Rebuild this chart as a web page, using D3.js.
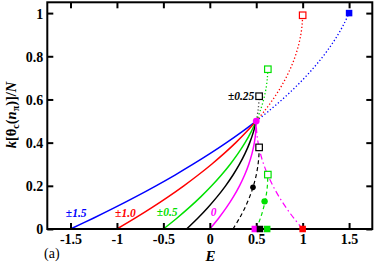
<!DOCTYPE html>
<html><head><meta charset="utf-8">
<script src="https://cdn.jsdelivr.net/npm/d3@7"></script>
<style>body{margin:0;background:#fff}svg{display:block}</style>
</head><body>
<svg id="c" width="374" height="262"></svg>
<script>
// ---- data ----
const xTicks = [-1.5, -1, -0.5, 0, 0.5, 1, 1.5];
const xTickLabels = ["-1.5", "-1", "-0.5", "0", "0.5", "1", "1.5"];
const yTicks = [0, 0.2, 0.4, 0.6, 0.8, 1];
const yTickLabels = ["0", "0.2", "0.4", "0.6", "0.8", "1"];

// lower half (k/N from 0 to 0.5)
const yLow = [0, 0.05, 0.1, 0.15, 0.2, 0.25, 0.3, 0.35, 0.4, 0.45, 0.5];
const blueSolidE    = [-1.5, -1.255, -1.02, -0.795, -0.58, -0.375, -0.18, 0.005, 0.18, 0.345, 0.5];
const redSolidE     = [-1, -0.805, -0.62, -0.445, -0.28, -0.125, 0.02, 0.155, 0.28, 0.395, 0.5];
const greenSolidE   = [-0.5, -0.355, -0.22, -0.095, 0.02, 0.125, 0.22, 0.305, 0.38, 0.445, 0.5];
const blackSolidE   = [-0.25, -0.13, -0.02, 0.08, 0.17, 0.25, 0.32, 0.38, 0.43, 0.47, 0.5];
const magentaSolidE = [0, 0.095, 0.18, 0.255, 0.32, 0.375, 0.42, 0.455, 0.48, 0.495, 0.5];
const magentaDashDotE = [1, 0.905, 0.82, 0.745, 0.68, 0.625, 0.58, 0.545, 0.52, 0.505, 0.5];

// upper dotted branches
const blueDotY  = [0.5, 0.55, 0.6, 0.65, 0.7, 0.75, 0.8, 0.85, 0.9, 0.95, 1.0];
const blueDotE  = [0.5, 0.645, 0.78, 0.905, 1.02, 1.125, 1.22, 1.305, 1.38, 1.445, 1.5];
const redDotY   = [0.5, 0.55, 0.6, 0.65, 0.7, 0.75, 0.8, 0.85, 0.9, 0.95, 0.99];
const redDotE   = [0.5, 0.595, 0.68, 0.755, 0.82, 0.875, 0.92, 0.955, 0.98, 0.995, 1.0];
const greenDotY = [0.5, 0.55, 0.6, 0.65, 0.7, 0.74];
const greenDotE = [0.5, 0.545, 0.58, 0.605, 0.62, 0.625];
const blackDotY = [0.5, 0.55, 0.6, 0.615];
const blackDotE = [0.5, 0.52, 0.53, 0.531];

// lower dashed branches
const blackDashY = [0, 0.05, 0.1, 0.15, 0.2, 0.25, 0.3, 0.35, 0.378];
const blackDashE = [0.25, 0.32, 0.38, 0.43, 0.47, 0.5, 0.52, 0.53, 0.531];
const greenDashY = [0, 0.05, 0.1, 0.15, 0.2, 0.252];
const greenDashE = [0.5, 0.545, 0.58, 0.605, 0.62, 0.625];

// markers
const openSquares = [
  {E: 1.0, y: 0.99, c: "#ff0000"},
  {E: 0.625, y: 0.74, c: "#00e000"},
  {E: 0.531, y: 0.615, c: "#000000"},
  {E: 0.531, y: 0.378, c: "#000000"},
  {E: 0.625, y: 0.252, c: "#00e000"}
];
const filledSquares = [
  {E: 1.5, y: 1.0, c: "#0000ff"},
  {E: 0.485, y: 0, c: "#ff00ff"},
  {E: 0.54, y: 0, c: "#000000"},
  {E: 0.618, y: 0, c: "#00e000"},
  {E: 1.0, y: 0, c: "#ff0000"}
];
const dots = [
  {E: 0.465, y: 0.193, c: "#000000", r: 2.8},
  {E: 0.59, y: 0.128, c: "#00e000", r: 3.2},
  {E: 0.5, y: 0.5, c: "#ff00ff", r: 3.4}
];
const curveLabels = [
  {t: "±1.5", E: -1.55, y: 0.056, c: "#0000ff"},
  {t: "±1.0", E: -1.02, y: 0.056, c: "#ff0000"},
  {t: "±0.5", E: -0.57, y: 0.06, c: "#00e000"},
  {t: "0",    E: 0.01,  y: 0.06, c: "#ff00ff"},
  {t: "±0.25", E: 0.195, y: 0.597, c: "#000000"}
];

// ---- drawing ----
const svg = d3.select("#c");
const L = 47.3, R = 372.3, T = 2.3, B = 229;
const x = d3.scaleLinear().domain([-1.75, 1.75]).range([L, R]);
const y = d3.scaleLinear().domain([0, 1.05]).range([B, T]);
const serif = "'Liberation Serif','Times New Roman',serif";

const line = d3.line().x(d => x(d[0])).y(d => y(d[1])).curve(d3.curveCatmullRom);
const zip = (Es, Ys) => Es.map((e, i) => [e, Ys[i]]);

function path(pts, color, dash, w) {
  svg.append("path").attr("d", line(pts)).attr("fill", "none")
    .attr("stroke", color).attr("stroke-width", w || 1.5)
    .attr("stroke-dasharray", dash || null);
}

const dot = "1.3,2.2";
path(zip(blueDotE, blueDotY), "#0000ff", dot, 1.3);
path(zip(redDotE, redDotY), "#ff0000", dot, 1.3);
path(zip(greenDotE, greenDotY), "#00e000", dot, 1.3);
path(zip(blackDotE, blackDotY), "#555555", dot, 1.3);

path(zip(blueSolidE, yLow), "#0000ff");
path(zip(redSolidE, yLow), "#ff0000");
path(zip(greenSolidE, yLow), "#00e000");
path(zip(blackSolidE, yLow), "#000000");
path(zip(magentaSolidE, yLow), "#ff00ff");

path(zip(blackDashE, blackDashY), "#000000", "4,3", 1.2);
path(zip(greenDashE, greenDashY), "#00e000", "4,3", 1.2);
path(zip(magentaDashDotE, yLow), "#ff00ff", "6,3,1.5,3", 1.2);

// frame + ticks
const ax = svg.append("g");
ax.append("rect").attr("x", L).attr("y", T).attr("width", R - L).attr("height", B - T)
  .attr("fill", "none").attr("stroke", "#000").attr("stroke-width", 2);

const xb = d3.axisBottom(x).tickValues(xTicks).tickSizeInner(-6).tickSizeOuter(0).tickFormat((d, i) => xTickLabels[i]);
const gxb = ax.append("g").attr("transform", `translate(0,${B})`).call(xb);
const xt = d3.axisTop(x).tickValues(xTicks).tickSizeInner(-6).tickSizeOuter(0).tickFormat("");
const gxt = ax.append("g").attr("transform", `translate(0,${T})`).call(xt);
const yl = d3.axisLeft(y).tickValues(yTicks).tickSizeInner(-6).tickSizeOuter(0).tickFormat((d, i) => yTickLabels[i]);
const gyl = ax.append("g").attr("transform", `translate(${L},0)`).call(yl);
const yr = d3.axisRight(y).tickValues(yTicks).tickSizeInner(-6).tickSizeOuter(0).tickFormat("");
const gyr = ax.append("g").attr("transform", `translate(${R},0)`).call(yr);
[gxb, gxt, gyl, gyr].forEach(g => {
  g.select(".domain").remove();
  g.selectAll("line").attr("stroke", "#000").attr("stroke-width", 2);
  g.selectAll("text").attr("font-family", serif).attr("font-weight", "bold")
    .attr("font-size", 14).attr("fill", "#000");
});
gxb.selectAll("text").attr("dy", "0.71em").attr("y", 5);
gyl.selectAll("text").attr("dy", "0.35em").attr("x", -4);

// markers
const s = 6.5;
svg.selectAll(".os").data(openSquares).join("rect")
  .attr("x", d => x(d.E) - s / 2).attr("y", d => y(d.y) - s / 2)
  .attr("width", s).attr("height", s).attr("fill", "#fff")
  .attr("stroke", d => d.c).attr("stroke-width", 1.2);
svg.selectAll(".fs").data(filledSquares).join("rect")
  .attr("x", d => x(d.E) - s / 2).attr("y", d => y(d.y) - s / 2)
  .attr("width", s).attr("height", s).attr("fill", d => d.c);
svg.selectAll(".dt").data(dots).join("circle")
  .attr("cx", d => x(d.E)).attr("cy", d => y(d.y)).attr("r", d => d.r).attr("fill", d => d.c);

// curve labels
svg.selectAll(".cl").data(curveLabels).join("text")
  .attr("x", d => x(d.E)).attr("y", d => y(d.y))
  .attr("font-family", serif).attr("font-style", "italic").attr("font-weight", "bold")
  .attr("font-size", 11.5).attr("fill", d => d.c).text(d => d.t);

// axis titles
svg.append("text").attr("x", 210.5).attr("y", 260.5).attr("text-anchor", "middle")
  .attr("font-family", serif).attr("font-style", "italic").attr("font-weight", "bold")
  .attr("font-size", 15).text("E");
svg.append("text").attr("x", 44).attr("y", 258)
  .attr("font-family", serif).attr("font-size", 14).text("(a)");

const yt = svg.append("text").attr("transform", "translate(16,115) rotate(-90)")
  .attr("text-anchor", "middle").attr("font-family", serif).attr("font-weight", "bold")
  .attr("font-size", 14.5);
yt.append("tspan").attr("font-style", "italic").text("k");
yt.append("tspan").text("[θ");
yt.append("tspan").attr("font-size", 10).attr("dy", 3).text("c");
yt.append("tspan").attr("dy", -3).text("(");
yt.append("tspan").attr("font-style", "italic").text("n");
yt.append("tspan").attr("font-size", 10).attr("dy", 3).text("π");
yt.append("tspan").attr("dy", -3).text(")]/");
yt.append("tspan").attr("font-style", "italic").text("N");
</script>
</body></html>
